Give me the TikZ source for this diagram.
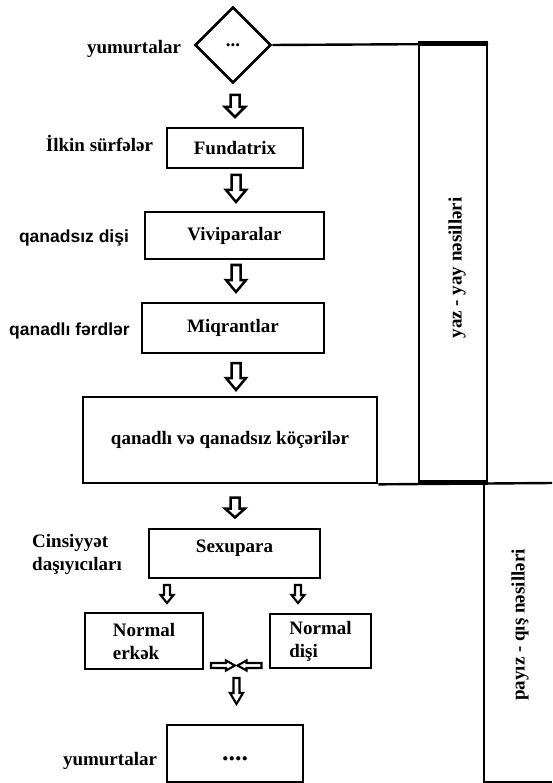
\documentclass[tikz,border=0pt]{standalone}
\usepackage{fontspec}
\setmainfont{Liberation Serif}
\newfontfamily\arialfont{Liberation Sans}
\usetikzlibrary{shapes.geometric}
\begin{document}
\begin{tikzpicture}[x=1pt,y=-1pt,
  box/.style={draw, line width=2.7pt, inner sep=0pt, font=\fontsize{19}{23}\selectfont\bfseries, align=center},
  lbl/.style={inner sep=0pt, font=\fontsize{19}{23}\selectfont\bfseries, anchor=base},
  slbl/.style={inner sep=0pt, font=\fontsize{17.5}{21}\selectfont\arialfont\bfseries, anchor=base},
  frame/.style={line width=2.4pt},
  thickframe/.style={line width=5pt},
  pics/blockarrow/.style n args={5}{code={
     \draw[line width=#5, line join=miter] (-#2/2,-#1/2) -- (#2/2,-#1/2) -- (#2/2,#1/2-#4) -- (#3/2,#1/2-#4) -- (0,#1/2) -- (-#3/2,#1/2-#4) -- (-#2/2,#1/2-#4) -- cycle;
  }},
]
\useasboundingbox (0,0) rectangle (552,783);

% top diamond
\node[diamond, draw, line width=2.6pt, minimum width=76pt, minimum height=76pt, inner sep=0pt,
      font=\fontsize{19}{23}\selectfont\bfseries] (dia) at (233,45) {\raisebox{-2.5pt}{...}};

% boxes
\node[box, minimum width=136pt, minimum height=40pt] (fund) at (235,148) {Fundatrix};
\node[box, minimum width=179pt, minimum height=47pt] (vivi) at (234.5,235.5) {Viviparalar};
\node[box, minimum width=182pt, minimum height=50pt] (miq) at (233,328) {Miqrantlar};
\node[box, minimum width=294pt, minimum height=86pt] (big) at (230,440) {qanadlı və qanadsız köçərilər};
\node[box, minimum width=171pt, minimum height=49pt, text depth=14pt] (sex) at (234.5,553.5) {Sexupara};
\node[box, align=left, minimum width=118pt, minimum height=56pt] (erk) at (144,641) {Normal\\erkək};
\node[box, align=left, minimum width=101pt, minimum height=54pt] (dis) at (320.5,641) {Normal\\dişi};
\node[box, minimum width=136pt, minimum height=57pt, text height=14pt,
      font=\fontsize{26}{28}\selectfont\bfseries] (egg) at (235,753.5) {....};

% side labels
\node[lbl] (l1) at (134,54) {yumurtalar};
\node[lbl] (l2) at (99.5,152) {İlkin sürfələr};
\node[slbl] (l3) at (74,243) {qanadsız dişi};
\node[slbl] (l4) at (69.5,335) {qanadlı fərdlər};
\node[lbl, anchor=base west] (l5a) at (32,547) {Cinsiyyət};
\node[lbl, anchor=base west] (l5b) at (32,570) {daşıyıcıları};
\node[lbl] (l6) at (110,765) {yumurtalar};

% season panels
\node[draw, line width=2.4pt, minimum width=68pt, minimum height=436pt, inner sep=0pt] (yazbox) at (453,263) {};
\draw[thickframe] (yazbox.north west) -- (yazbox.north east);
\draw[thickframe] (yazbox.south west) -- (yazbox.south east);
\draw[frame] (dia.east) -- (yazbox.north east);
\coordinate (redge) at (552,483);
\draw[frame] (big.south east) -- (redge);
\coordinate (ptl) at (484,483);
\coordinate (pbl) at (484,782);
\coordinate (pbr) at (552,782);
\draw[frame] (ptl) -- (pbl) -- (pbr);
\node[lbl, anchor=center, rotate=90] (yaz) at (457,268) {yaz - yay nəsilləri};
\node[lbl, anchor=center, rotate=90] (pay) at (520,625) {payız - qış nəsilləri};

% hollow block arrows
\pic (a1) at (235,106) {blockarrow={22}{9}{20}{10}{2.5pt}};
\pic (a2) at (236,188.5) {blockarrow={27}{9}{20}{12}{2.5pt}};
\pic (a3) at (236,278.5) {blockarrow={27}{9}{20}{12}{2.5pt}};
\pic (a4) at (236,376.5) {blockarrow={27}{9}{20}{12}{2.5pt}};
\pic (a5) at (235,507.5) {blockarrow={20}{9}{20}{9}{2.5pt}};
\pic (a6) at (167,594) {blockarrow={18}{6}{13}{8}{2.1pt}};
\pic (a7) at (298,594) {blockarrow={18}{6}{13}{8}{2.1pt}};
\pic[rotate=90] (a8) at (223,665.5) {blockarrow={24}{5}{10}{9}{2.1pt}};
\pic[rotate=-90] (a9) at (249.5,665.5) {blockarrow={24}{5}{10}{9}{2.1pt}};
\pic (a10) at (236.5,691) {blockarrow={26}{6}{13}{11}{2.1pt}};
\end{tikzpicture}
\end{document}
